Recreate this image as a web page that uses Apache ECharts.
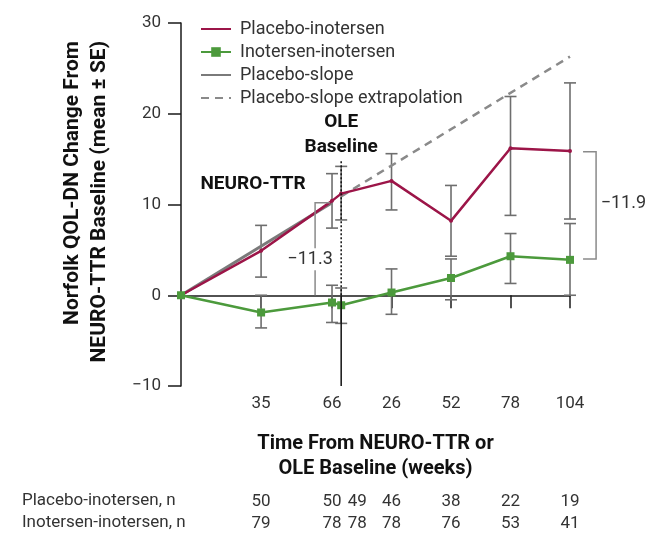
<!DOCTYPE html>
<html><head><meta charset="utf-8">
<script src="https://cdn.jsdelivr.net/npm/echarts@6/dist/echarts.min.js"></script>
<style>html,body{margin:0;padding:0;background:#fff}#c{width:646px;height:533px}</style>
</head><body><div id="c"></div>
<script>
// ---- data ----
const weeksX = [0, 35, 66, 70, 92, 118, 144, 170];
const xTickValues = [35, 66, 92, 118, 144, 170];
const xTickLabels = ['35', '66', '26', '52', '78', '104'];
const placeboMean = [0, 4.9, 10.4, 11.2, 12.6, 8.2, 16.2, 15.9];
const placeboLow  = [null, 2.0, 7.4, 8.3, 9.4, 4.3, 8.8, 8.4];
const placeboHigh = [null, 7.7, 13.4, 14.2, 15.6, 12.1, 21.9, 23.4];
const inoMean = [0, -1.9, -0.8, -1.1, 0.3, 1.9, 4.3, 3.9];
const inoLow  = [null, -3.6, -3.0, -3.1, -2.1, -0.5, 1.3, 0.0];
const inoHigh = [null, 0.0, 1.1, 0.8, 2.9, 4.0, 6.8, 7.9];
const slopeX = [0, 66];
const slopeY = [0, 10.2];
const extrapX = [70, 170];
const extrapY = [10.9, 26.3];
const nColumnsX = [35, 66, 77, 92, 118, 144, 170];
const nPlacebo = [50, 50, 49, 46, 38, 22, 19];
const nIno = [79, 78, 78, 78, 76, 53, 41];
const rowLabels = ['Placebo-inotersen, n', 'Inotersen-inotersen, n'];
const seriesNames = ['Placebo-inotersen', 'Inotersen-inotersen', 'Placebo-slope', 'Placebo-slope extrapolation'];
const diffLabels = ['\u221211.3', '\u221211.9'];
const yAxisTitle = 'Norfolk QOL-DN Change From\nNEURO-TTR Baseline (mean \u00b1 SE)';
const xAxisTitle = 'Time From NEURO-TTR or\nOLE Baseline (weeks)';

// ---- chart ----
const FONT = 'Roboto';
const RED = '#9c1548', GREEN = '#4c9a3c', GREY = '#7a7a7a';
const chart = echarts.init(document.getElementById('c'), null, {renderer: 'canvas'});

function pairs(xs, ys) { return xs.map((x, i) => [x, ys[i]]); }
function bars(xs, lo, hi) {
  const out = [];
  xs.forEach((x, i) => { if (lo[i] != null) out.push([x, lo[i], hi[i]]); });
  return out;
}
function errorBarItem(params, api) {
  const x = api.value(0);
  const pLo = api.coord([x, api.value(1)]);
  const pHi = api.coord([x, api.value(2)]);
  const hw = 6;
  const style = {stroke: '#6e6e6e', lineWidth: 1.6, fill: null};
  return {type: 'group', children: [
    {type: 'line', shape: {x1: pLo[0], y1: pLo[1], x2: pHi[0], y2: pHi[1]}, style},
    {type: 'line', shape: {x1: pLo[0] - hw, y1: pLo[1], x2: pLo[0] + hw, y2: pLo[1]}, style},
    {type: 'line', shape: {x1: pHi[0] - hw, y1: pHi[1], x2: pHi[0] + hw, y2: pHi[1]}, style}
  ]};
}
function annotationItem(params, api) {
  const c = (x, y) => api.coord([x, y]);
  const ole0 = c(70, 0), oleTop = c(70, 15), oleBot = c(70, -10);
  const b1a = c(65.1, 10.2), b1b = c(58.6, 10.2), b1c = c(58.6, 0);
  const b2a = c(175.7, 15.8), b2b = c(181.4, 15.8), b2c = c(181.4, 4.0), b2d = c(175.7, 4.0);
  const t1 = c(56.4, 3.97), t2 = c(183.4, 10.1);
  const neuro = c(31.5, 12.2), ole = c(70, 17.7);
  const bracketStyle = {stroke: '#8a8a8a', lineWidth: 1.5, fill: null};
  return {type: 'group', children: [
    {type: 'line', shape: {x1: ole0[0], y1: ole0[1], x2: oleTop[0], y2: oleTop[1]},
      style: {stroke: '#111', lineWidth: 1.5, lineDash: [2, 2]}},
    {type: 'line', shape: {x1: oleBot[0], y1: oleBot[1], x2: ole0[0], y2: ole0[1]},
      style: {stroke: '#111', lineWidth: 1.5}},
    {type: 'polyline', shape: {points: [b1a, b1b, b1c]}, style: bracketStyle},
    {type: 'polyline', shape: {points: [b2a, b2b, b2c, b2d]}, style: bracketStyle},
    {type: 'text', x: t1[0], y: t1[1], style: {text: diffLabels[0], fontFamily: FONT, fontSize: 18, fill: '#333',
      align: 'center', verticalAlign: 'middle', backgroundColor: '#fff', padding: [2, 1]}},
    {type: 'text', x: t2[0], y: t2[1], style: {text: diffLabels[1], fontFamily: FONT, fontSize: 18, fill: '#333',
      align: 'left', verticalAlign: 'middle'}},
    {type: 'text', x: neuro[0], y: neuro[1], style: {text: 'NEURO-TTR', fontFamily: FONT, fontWeight: 'bold', fontSize: 19,
      fill: '#111', align: 'center', verticalAlign: 'middle'}},
    {type: 'text', x: ole[0], y: ole[1], style: {text: 'OLE\nBaseline', fontFamily: FONT, fontWeight: 'bold', fontSize: 19,
      lineHeight: 25, fill: '#111', align: 'center', verticalAlign: 'middle'}}
  ]};
}
function tableItem(params, api) {
  const px = api.coord([api.value(0), 0])[0];
  const st = {fontFamily: FONT, fontSize: 17, fill: '#333', align: 'center', verticalAlign: 'middle'};
  return {type: 'group', children: [
    {type: 'text', x: px, y: 502, style: Object.assign({text: String(api.value(2))}, st)},
    {type: 'text', x: px, y: 524, style: Object.assign({text: String(api.value(3))}, st)}
  ]};
}

const hideSymbol = {opacity: 0};
const option = {
  animation: false,
  textStyle: {fontFamily: FONT},
  grid: {left: 181, right: 76, top: 23, bottom: 147, containLabel: false},
  legend: {
    data: [
      {name: seriesNames[0], itemStyle: hideSymbol},
      {name: seriesNames[1]},
      {name: seriesNames[2], itemStyle: hideSymbol},
      {name: seriesNames[3], itemStyle: hideSymbol}
    ],
    orient: 'vertical', left: 195, top: 15,
    itemWidth: 30, itemHeight: 12, itemGap: 5, selectedMode: false,
    textStyle: {fontSize: 18, color: '#333', lineHeight: 17, padding: [0, 0, 0, 4]}
  },
  xAxis: [
    {type: 'value', min: 0, max: 170, position: 'top',
      axisLine: {show: true, onZero: true, lineStyle: {color: '#1a1a1a', width: 1.5}},
      axisTick: {show: true, inside: true, length: 13, customValues: xTickValues, lineStyle: {color: '#1a1a1a', width: 1.5}},
      axisLabel: {show: false}, splitLine: {show: false}},
    {type: 'value', min: 0, max: 170, position: 'bottom',
      axisLine: {show: false, onZero: false}, axisTick: {show: false}, splitLine: {show: false},
      axisLabel: {customValues: xTickValues, formatter: v => xTickLabels[xTickValues.indexOf(v)],
        fontSize: 17, color: '#333', margin: 9},
      name: xAxisTitle, nameLocation: 'middle', nameGap: 45,
      nameTextStyle: {fontSize: 20, fontWeight: 'bold', color: '#111', lineHeight: 25}}
  ],
  yAxis: {
    type: 'value', min: -10, max: 30, interval: 10,
    axisLine: {show: true, onZero: false, lineStyle: {color: '#1a1a1a', width: 1.5}},
    axisTick: {show: true, length: 13, lineStyle: {color: '#1a1a1a', width: 1.5}},
    axisLabel: {fontSize: 17, color: '#333', margin: 20, formatter: v => String(v).replace('-', '\u2212')},
    splitLine: {show: false}
  },
  graphic: [
    {type: 'text', x: 86.5, y: 41, rotation: Math.PI / 2,
      style: {text: yAxisTitle, fontFamily: FONT, fontSize: 21, fontWeight: 'bold', fill: '#111',
        lineHeight: 27, align: 'right', verticalAlign: 'middle'}},
    {type: 'text', left: 22, top: 492, style: {text: rowLabels[0], fontFamily: FONT, fontSize: 17, fill: '#333'}},
    {type: 'text', left: 22, top: 514, style: {text: rowLabels[1], fontFamily: FONT, fontSize: 17, fill: '#333'}}
  ],
  series: [
    {type: 'custom', name: 'errPlacebo', renderItem: errorBarItem, data: bars(weeksX, placeboLow, placeboHigh),
      encode: {x: 0, y: [1, 2]}, z: 1, silent: true},
    {type: 'custom', name: 'errIno', renderItem: errorBarItem, data: bars(weeksX, inoLow, inoHigh),
      encode: {x: 0, y: [1, 2]}, z: 1, silent: true},
    {type: 'line', name: seriesNames[2], data: pairs(slopeX, slopeY), symbol: 'none',
      lineStyle: {color: GREY, width: 3}, itemStyle: {color: GREY}, z: 2},
    {type: 'line', name: seriesNames[3], data: pairs(extrapX, extrapY), symbol: 'none',
      lineStyle: {color: '#8a8a8a', width: 2.5, type: [8, 6]}, itemStyle: {color: '#8a8a8a'}, z: 2},
    {type: 'line', name: seriesNames[0], data: pairs(weeksX, placeboMean), symbol: 'circle', symbolSize: 4,
      lineStyle: {color: RED, width: 2.5}, itemStyle: {color: RED}, z: 5},
    {type: 'line', name: seriesNames[1], data: pairs(weeksX, inoMean), symbol: 'rect', symbolSize: 8,
      lineStyle: {color: GREEN, width: 2.5}, itemStyle: {color: GREEN}, z: 6},
    {type: 'custom', name: 'annotations', renderItem: annotationItem, data: [[0, 0]],
      encode: {x: 0, y: 1}, z: 7, silent: true},
    {type: 'custom', name: 'nTable', renderItem: tableItem,
      data: nColumnsX.map((x, i) => [x, 0, nPlacebo[i], nIno[i]]),
      encode: {x: 0, y: 1}, z: 7, silent: true}
  ]
};
chart.setOption(option);
</script></body></html>
